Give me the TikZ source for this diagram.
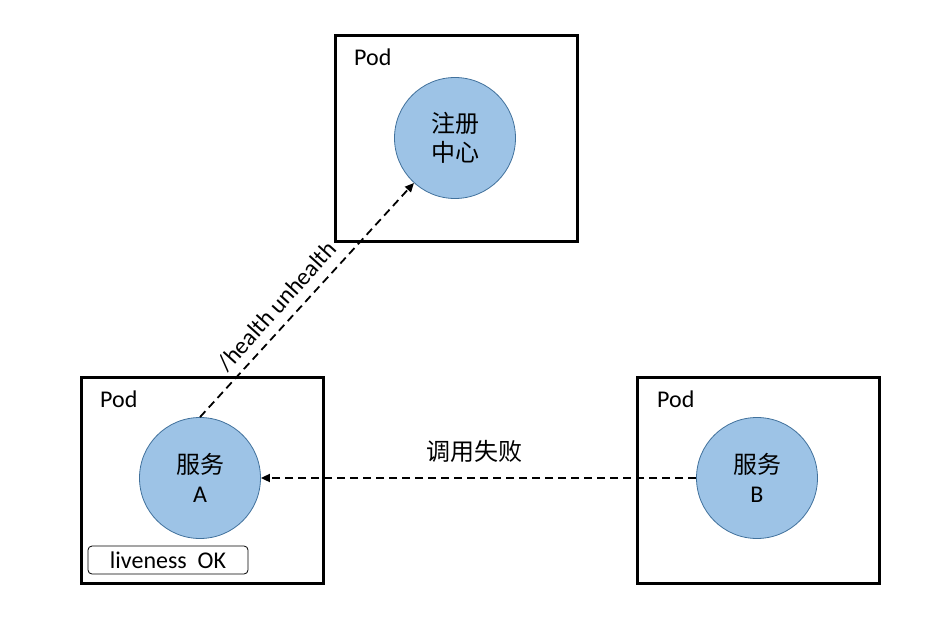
\documentclass[tikz,border=0pt]{standalone}
\usepackage{fontspec}
\setmainfont{Carlito}
\newfontfamily\cjk{Noto Sans CJK SC}
\usetikzlibrary{arrows.meta}
\definecolor{circfill}{RGB}{157,195,230}
\definecolor{circdraw}{RGB}{65,113,156}
\begin{document}
\begin{tikzpicture}[x=1pt,y=-1pt,
  every node/.style={font=\fontsize{24}{29}\selectfont},
  podbox/.style={draw,line width=3pt,minimum width=242pt,minimum height=206pt,inner sep=0pt},
  svc/.style={circle,fill=circfill,draw=circdraw,line width=0.8pt,minimum size=121pt,inner sep=0pt,align=center,font=\fontsize{24}{29}\selectfont\cjk},
  podlabel/.style={anchor=base west,inner sep=0pt},
  dashconn/.style={line width=1.8pt,dash pattern=on 8pt off 5pt,-{Triangle[length=9pt,width=8pt]}},
  livebox/.style={draw,rounded corners=4pt,line width=0.8pt,minimum width=160pt,minimum height=28pt,inner sep=0pt}
]
\useasboundingbox (0,0) rectangle (937,637);
% pods
\node[podbox] (podt) at (456,138) {};
\node[podbox] (podl) at (202,480) {};
\node[podbox] (podr) at (758.5,480) {};
\node[podlabel] (lt) at (354,65) {Pod};
\node[podlabel] (ll) at (100,407) {Pod};
\node[podlabel] (lr) at (657,407) {Pod};
% services
\node[svc] (reg) at (455,138) {注册\\中心};
\node[svc] (a) at (200,478) {服务\\{\fontspec{Carlito}A}};
\node[svc] (b) at (757,478) {服务\\{\fontspec{Carlito}B}};
\node[livebox] (live) at (168,560) {liveness\ \ OK};
% connectors
\draw[dashconn] (a.north) -- (reg);
\node[rotate=48,inner sep=0pt] (hl) at (277,306) {/health unhealth};
\draw[dashconn] (b) -- (a);
\node (fail) at (474,451) {\cjk 调用失败};
\end{tikzpicture}
\end{document}
